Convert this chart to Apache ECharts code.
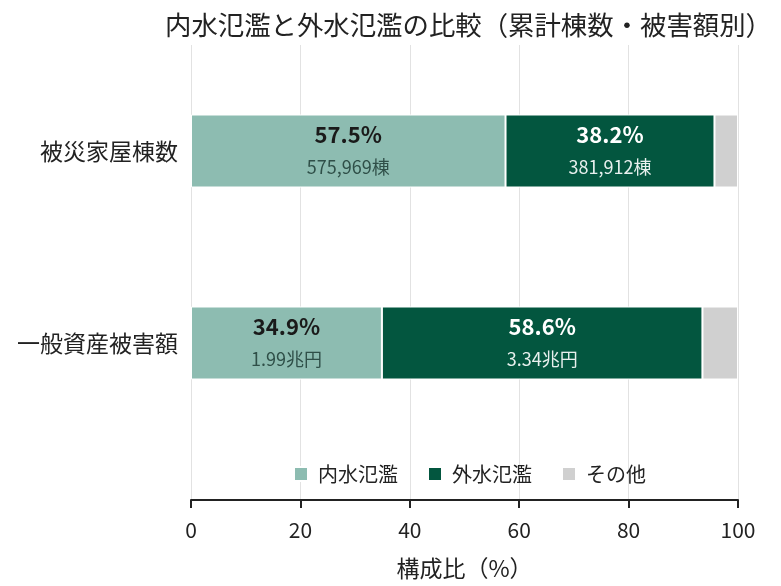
<!DOCTYPE html>
<html><head><meta charset="utf-8">
<script src="https://cdn.jsdelivr.net/npm/echarts@6/dist/echarts.min.js"></script>
<style>html,body{margin:0;padding:0;background:#fff}#c{width:781px;height:586px}</style>
</head><body><div id="c"></div>
<script>
const categories = ['被災家屋棟数', '一般資産被害額'];
const seriesNames = ['内水氾濫', '外水氾濫', 'その他'];
const naisui = [57.5, 34.9];
const gaisui = [38.2, 58.6];
const other = [4.3, 6.5];
const naisuiAmount = ['575,969棟', '1.99兆円'];
const gaisuiAmount = ['381,912棟', '3.34兆円'];
const xTicks = [0, 20, 40, 60, 80, 100];

const FONT = '"Noto Sans CJK JP", "Noto Sans", sans-serif';
const chart = echarts.init(document.getElementById('c'));
function lbl(amounts, pc, vc) {
  return {
    show: true, position: 'inside',
    formatter: p => '{p|' + p.value.toFixed(1) + '%}\n{v|' + amounts[p.dataIndex] + '}',
    rich: {
      p: { fontSize: 22, fontWeight: 'bold', color: pc, fontFamily: FONT, lineHeight: 32 },
      v: { fontSize: 18, color: vc, fontFamily: FONT, lineHeight: 32 }
    }
  };
}
chart.setOption({
  animation: false,
  textStyle: { fontFamily: FONT },
  title: { text: '内水氾濫と外水氾濫の比較（累計棟数・被害額別）', left: 160, top: 7,
    textStyle: { fontSize: 26.4, fontWeight: 'normal', color: '#222', fontFamily: FONT } },
  legend: { data: seriesNames, left: 288, top: 459, icon: 'rect', itemWidth: 14, itemHeight: 14, itemGap: 29,
    textStyle: { fontSize: 20, color: '#222', fontFamily: FONT, padding: [0, 0, 0, 5] } },
  grid: [
    { left: 191, right: 43, top: 45, bottom: 86 },
    { left: 191, right: 43, top: 55, height: 384 }
  ],
  xAxis: [
    { gridIndex: 0, type: 'value', min: xTicks[0], max: xTicks[xTicks.length - 1], interval: 20,
      axisLine: { show: true, lineStyle: { color: '#222', width: 2 } },
      axisTick: { show: true, length: 8, lineStyle: { color: '#222', width: 2 } },
      axisLabel: { fontSize: 21, color: '#222', margin: 20, fontFamily: FONT },
      splitLine: { show: true, lineStyle: { color: '#e2e2e2', width: 1 } },
      name: '構成比（%）', nameLocation: 'middle', nameGap: 57,
      nameTextStyle: { fontSize: 23, color: '#222', fontFamily: FONT } },
    { gridIndex: 1, type: 'value', min: 0, max: 100, show: false }
  ],
  yAxis: [
    { gridIndex: 0, type: 'value', show: false },
    { gridIndex: 1, type: 'category', data: categories, inverse: true,
      axisLine: { show: false }, axisTick: { show: false },
      axisLabel: { fontSize: 23, color: '#222', margin: 13, fontFamily: FONT } }
  ],
  series: [
    { name: seriesNames[0], type: 'bar', stack: 's', xAxisIndex: 1, yAxisIndex: 1, barWidth: 73, data: naisui,
      itemStyle: { color: '#8dbcb1', borderColor: '#fff', borderWidth: 1 },
      label: lbl(naisuiAmount, '#1a1a1a', '#2f4f48') },
    { name: seriesNames[1], type: 'bar', stack: 's', xAxisIndex: 1, yAxisIndex: 1, barWidth: 73, data: gaisui,
      itemStyle: { color: '#03563f', borderColor: '#fff', borderWidth: 1 },
      label: lbl(gaisuiAmount, '#ffffff', '#e8f0ee') },
    { name: seriesNames[2], type: 'bar', stack: 's', xAxisIndex: 1, yAxisIndex: 1, barWidth: 73, data: other,
      itemStyle: { color: '#d0d0d0', borderColor: '#fff', borderWidth: 1 } }
  ]
});
</script></body></html>
